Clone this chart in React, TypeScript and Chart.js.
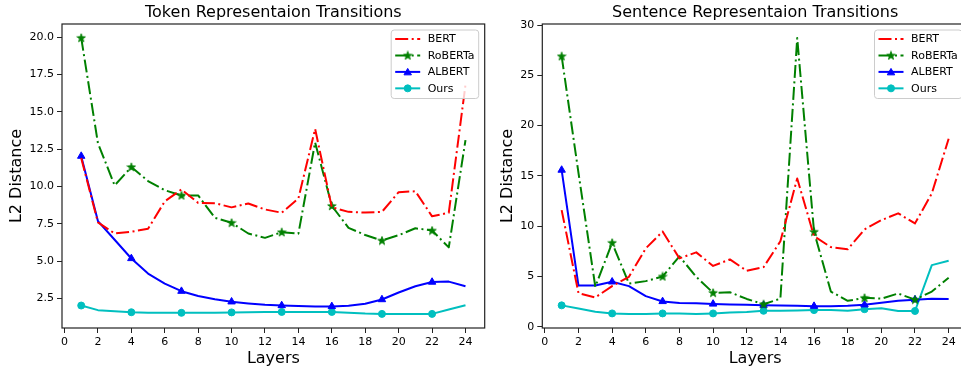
import React, { useEffect, useRef } from 'react';
import { Chart, registerables } from 'chart.js';

Chart.register(...registerables);

// ---------- data ----------
const layers = [1, 2, 3, 4, 5, 6, 7, 8, 9, 10, 11, 12, 13, 14, 15, 16, 17, 18, 19, 20, 21, 22, 23, 24];
const xTickValues = [0, 2, 4, 6, 8, 10, 12, 14, 16, 18, 20, 22, 24];
const tokenYTicks = [2.5, 5, 7.5, 10, 12.5, 15, 17.5, 20];
const sentYTicks = [0, 5, 10, 15, 20, 25, 30];
const seriesNames = ['BERT', 'RoBERTa', 'ALBERT', 'Ours'];

const tokenBERT = [11.9, 7.6, 6.85, 6.97, 7.17, 9.0, 9.8, 8.9, 8.88, 8.6, 8.86, 8.46, 8.24, 9.2, 13.85, 8.6, 8.3, 8.25, 8.3, 9.62, 9.68, 8.0, 8.24, 16.8];
const tokenRoBERTa = [19.95, 12.9, 10.07, 11.3, 10.36, 9.75, 9.4, 9.4, 7.9, 7.57, 6.85, 6.56, 6.94, 6.84, 12.95, 8.7, 7.23, 6.75, 6.38, 6.74, 7.2, 7.05, 5.92, 13.1];
const tokenALBERT = [12.03, 7.68, 6.43, 5.18, 4.17, 3.5, 2.99, 2.67, 2.45, 2.28, 2.17, 2.08, 2.03, 1.99, 1.97, 1.97, 2.01, 2.15, 2.43, 2.9, 3.32, 3.6, 3.63, 3.32];
const tokenOurs = [2.03, 1.72, 1.65, 1.58, 1.55, 1.54, 1.54, 1.54, 1.55, 1.57, 1.58, 1.59, 1.6, 1.6, 1.6, 1.6, 1.54, 1.49, 1.47, 1.47, 1.47, 1.47, 1.76, 2.05];

const sentBERT = [11.6, 3.35, 2.92, 4.05, 4.97, 7.8, 9.47, 6.8, 7.4, 6.05, 6.7, 5.57, 5.93, 8.5, 14.75, 9.0, 7.92, 7.7, 9.68, 10.6, 11.28, 10.28, 13.26, 18.7];
const sentRoBERTa = [26.9, 15.3, 3.98, 8.35, 4.3, 4.54, 5.0, 7.0, 4.97, 3.38, 3.43, 2.77, 2.24, 2.8, 28.7, 9.45, 3.5, 2.58, 2.88, 2.8, 3.31, 2.7, 3.5, 4.88];
const sentALBERT = [15.58, 4.1, 4.1, 4.47, 4.04, 3.05, 2.52, 2.36, 2.33, 2.27, 2.22, 2.19, 2.15, 2.12, 2.09, 2.05, 2.05, 2.09, 2.19, 2.39, 2.58, 2.7, 2.78, 2.77];
const sentOurs = [2.13, 1.82, 1.49, 1.33, 1.26, 1.26, 1.33, 1.33, 1.26, 1.33, 1.43, 1.46, 1.59, 1.59, 1.62, 1.66, 1.66, 1.59, 1.75, 1.85, 1.57, 1.57, 6.13, 6.56];

// ---------- styles ----------
const FONT = 'DejaVu Sans';
const COLORS = ['#ff0000', '#008000', '#0000ff', '#00bfbf'];
const DASHDOT = [13, 3.5, 2, 3.5];
const DASHES = [DASHDOT, DASHDOT, [], []];
const MARKERS = ['none', 'star', 'triangle', 'circle'];

function makeStar(color: string): HTMLCanvasElement {
  const c = document.createElement('canvas');
  c.width = 10;
  c.height = 10;
  const ctx = c.getContext('2d')!;
  const cx = 5, cy = 5.3, ro = 4.5, ri = 1.8;
  ctx.beginPath();
  for (let i = 0; i < 10; i++) {
    const r = i % 2 === 0 ? ro : ri;
    const a = -Math.PI / 2 + (i * Math.PI) / 5;
    const px = cx + r * Math.cos(a);
    const py = cy + r * Math.sin(a);
    if (i === 0) ctx.moveTo(px, py);
    else ctx.lineTo(px, py);
  }
  ctx.closePath();
  ctx.fillStyle = color;
  ctx.fill();
  ctx.strokeStyle = color;
  ctx.lineWidth = 0.8;
  ctx.stroke();
  return c;
}

function drawMarker(ctx: CanvasRenderingContext2D, kind: string, x: number, y: number, color: string, star: HTMLCanvasElement) {
  ctx.save();
  ctx.setLineDash([]);
  ctx.fillStyle = color;
  ctx.strokeStyle = color;
  ctx.lineWidth = 1;
  if (kind === 'star') {
    ctx.drawImage(star, x - star.width / 2, y - star.height / 2);
  } else if (kind === 'triangle') {
    const r = 4.3;
    ctx.beginPath();
    for (let i = 0; i < 3; i++) {
      const a = -Math.PI / 2 + (i * 2 * Math.PI) / 3;
      const px = x + r * Math.cos(a);
      const py = y + r * Math.sin(a) + 0.8;
      if (i === 0) ctx.moveTo(px, py);
      else ctx.lineTo(px, py);
    }
    ctx.closePath();
    ctx.fill();
    ctx.stroke();
  } else if (kind === 'circle') {
    ctx.beginPath();
    ctx.arc(x, y, 3.5, 0, Math.PI * 2);
    ctx.fill();
    ctx.stroke();
  }
  ctx.restore();
}

function buildConfig(
  title: string,
  values: number[][],
  yMin: number,
  yMax: number,
  yTicks: number[],
  yFmt: (v: number) => string,
  yWidth: number,
  yTitlePad: number,
  padRight: number,
  star: HTMLCanvasElement
): any {
  const datasets = values.map((vals, i) => ({
    label: seriesNames[i],
    data: layers.map((l, j) => ({ x: l, y: vals[j] })),
    borderColor: COLORS[i],
    backgroundColor: COLORS[i],
    borderWidth: 2,
    borderDash: DASHES[i],
    borderCapStyle: 'butt',
    borderJoinStyle: 'round',
    tension: 0,
    fill: false,
    pointStyle: MARKERS[i] === 'star' ? star : MARKERS[i] === 'triangle' ? 'triangle' : 'circle',
    pointRadius: (c: any) => (MARKERS[i] !== 'none' && c.dataIndex % 3 === 0 ? (MARKERS[i] === 'triangle' ? 4.3 : 3.5) : 0),
    pointHoverRadius: 0,
    pointBorderWidth: 1,
    pointBackgroundColor: COLORS[i],
    pointBorderColor: COLORS[i],
  }));

  const titlePlugin = {
    id: 'panelTitle',
    afterDraw(chart: any) {
      const { ctx, chartArea } = chart;
      ctx.save();
      ctx.font = `16px "${FONT}"`;
      ctx.fillStyle = '#000';
      ctx.textAlign = 'center';
      ctx.textBaseline = 'middle';
      ctx.fillText(title, (chartArea.left + chartArea.right) / 2, 12.5);
      ctx.restore();
    },
  };

  const framePlugin = {
    id: 'frame',
    afterDatasetsDraw(chart: any) {
      const { ctx, chartArea } = chart;
      ctx.save();
      ctx.strokeStyle = '#222';
      ctx.lineWidth = 1.2;
      ctx.setLineDash([]);
      ctx.strokeRect(chartArea.left, chartArea.top, chartArea.right - chartArea.left, chartArea.bottom - chartArea.top);
      ctx.restore();
    },
  };

  const legendPlugin = {
    id: 'boxLegend',
    afterDraw(chart: any) {
      const { ctx, chartArea } = chart;
      const x0 = chartArea.right - 93.5;
      const y0 = chartArea.top + 6;
      const w = 87.5;
      const h = 68.5;
      const rr = 3;
      ctx.save();
      ctx.beginPath();
      ctx.moveTo(x0 + rr, y0);
      ctx.lineTo(x0 + w - rr, y0);
      ctx.quadraticCurveTo(x0 + w, y0, x0 + w, y0 + rr);
      ctx.lineTo(x0 + w, y0 + h - rr);
      ctx.quadraticCurveTo(x0 + w, y0 + h, x0 + w - rr, y0 + h);
      ctx.lineTo(x0 + rr, y0 + h);
      ctx.quadraticCurveTo(x0, y0 + h, x0, y0 + h - rr);
      ctx.lineTo(x0, y0 + rr);
      ctx.quadraticCurveTo(x0, y0, x0 + rr, y0);
      ctx.closePath();
      ctx.fillStyle = 'rgba(255,255,255,0.8)';
      ctx.fill();
      ctx.strokeStyle = '#cccccc';
      ctx.lineWidth = 1;
      ctx.stroke();
      seriesNames.forEach((name, i) => {
        const y = y0 + 9 + i * 16.45;
        ctx.save();
        ctx.strokeStyle = COLORS[i];
        ctx.lineWidth = 2;
        ctx.setLineDash(DASHES[i]);
        ctx.beginPath();
        ctx.moveTo(x0 + 4, y);
        ctx.lineTo(x0 + 29, y);
        ctx.stroke();
        ctx.restore();
        drawMarker(ctx, MARKERS[i], x0 + 16.5, y, COLORS[i], star);
        ctx.fillStyle = '#000';
        ctx.font = `11px "${FONT}"`;
        ctx.textAlign = 'left';
        ctx.textBaseline = 'middle';
        ctx.fillText(name, x0 + 36.5, y + 0.5);
      });
      ctx.restore();
    },
  };

  const tickFont = { family: FONT, size: 11 };
  const titleFont = { family: FONT, size: 16 };

  return {
    type: 'line',
    data: { datasets },
    options: {
      animation: false,
      responsive: false,
      devicePixelRatio: 1,
      events: [],
      layout: { padding: { left: 0, right: padRight, top: 24, bottom: 0 } },
      plugins: {
        legend: { display: false },
        tooltip: { enabled: false },
        title: { display: false },
      },
      scales: {
        x: {
          type: 'linear',
          min: -0.15,
          max: 25.15,
          afterBuildTicks: (axis: any) => {
            axis.ticks = xTickValues.map((v) => ({ value: v }));
          },
          afterFit: (s: any) => {
            s.height = 40;
            s.paddingLeft = 0;
            s.paddingRight = 0;
            s.paddingTop = 0;
            s.paddingBottom = 0;
          },
          ticks: {
            font: tickFont,
            color: '#000',
            padding: 3,
            autoSkip: false,
            maxRotation: 0,
            callback: (v: number) => String(v),
          },
          grid: { display: true, drawOnChartArea: false, drawTicks: true, tickLength: 5, tickColor: '#222', tickWidth: 1 },
          border: { display: false },
          title: { display: true, text: 'Layers', font: titleFont, color: '#000', padding: { top: 0, bottom: 0 } },
        },
        y: {
          type: 'linear',
          min: yMin,
          max: yMax,
          afterBuildTicks: (axis: any) => {
            axis.ticks = yTicks.map((v) => ({ value: v }));
          },
          afterFit: (s: any) => {
            s.width = yWidth;
            s.paddingLeft = 0;
            s.paddingRight = 0;
            s.paddingTop = 0;
            s.paddingBottom = 0;
          },
          ticks: {
            font: tickFont,
            color: '#000',
            padding: 3,
            autoSkip: false,
            callback: (v: number) => yFmt(v),
          },
          grid: { display: true, drawOnChartArea: false, drawTicks: true, tickLength: 5, tickColor: '#222', tickWidth: 1 },
          border: { display: false },
          title: { display: true, text: 'L2 Distance', font: titleFont, color: '#000', padding: { top: yTitlePad, bottom: 0 } },
        },
      },
    },
    plugins: [framePlugin, legendPlugin, titlePlugin],
  };
}

export default function App() {
  const leftRef = useRef<HTMLCanvasElement>(null);
  const rightRef = useRef<HTMLCanvasElement>(null);

  useEffect(() => {
    const star = makeStar(COLORS[1]);
    const c1 = new Chart(
      leftRef.current!,
      buildConfig(
        'Token Representaion Transitions',
        [tokenBERT, tokenRoBERTa, tokenALBERT, tokenOurs],
        0.525,
        20.875,
        tokenYTicks,
        (v) => v.toFixed(1),
        62,
        7,
        2,
        star
      )
    );
    const c2 = new Chart(
      rightRef.current!,
      buildConfig(
        'Sentence Representaion Transitions',
        [sentBERT, sentRoBERTa, sentALBERT, sentOurs],
        -0.12,
        30.1,
        sentYTicks,
        (v) => String(v),
        52.3,
        8.5,
        12,
        star
      )
    );
    return () => {
      c1.destroy();
      c2.destroy();
    };
  }, []);

  return (
    <div style={{ position: 'fixed', left: 0, top: 0, width: 961, height: 368, overflow: 'hidden', background: '#fff' }}>
      <canvas ref={leftRef} width={490} height={368} style={{ position: 'absolute', left: 0, top: 0, width: 490, height: 368 }} />
      <canvas ref={rightRef} width={490} height={368} style={{ position: 'absolute', left: 490, top: 0, width: 490, height: 368 }} />
    </div>
  );
}
